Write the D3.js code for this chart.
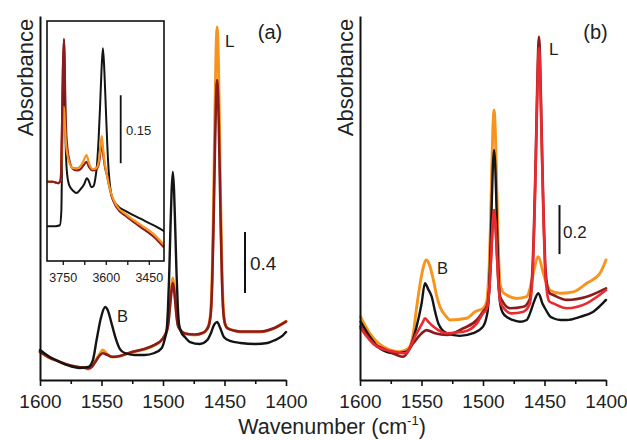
<!DOCTYPE html>
<html><head><meta charset="utf-8">
<script src="https://cdn.jsdelivr.net/npm/d3@7"></script>
<style>
html,body{margin:0;padding:0;background:#fff;}
svg{display:block;font-family:Arial,"Liberation Sans",sans-serif;}
</style></head>
<body>
<svg id="chart" width="627" height="440"></svg>
<script>
// ---------- DATA ----------
const ticksMain = [1600,1575,1550,1525,1500,1475,1450,1425,1400];
const tickLabelsMain = [1600,1550,1500,1450,1400];
const ticksInset = [3750,3675,3600,3525,3450];
const tickLabelsInset = [3750,3600,3450];

// panel (a) spectra: [wavenumber, absorbance]
const aBlack = [[1600,0.197],[1592,0.151],[1584,0.118],[1576,0.092],[1568,0.079],[1561,0.085],[1557,0.131],[1554,0.262],[1550.5,0.407],[1547,0.479],[1545,0.459],[1541.5,0.361],[1538,0.262],[1535,0.203],[1531,0.177],[1523,0.164],[1515,0.164],[1507,0.177],[1501,0.21],[1498.5,0.27],[1497,0.33],[1496,0.46],[1495,0.68],[1494,0.98],[1493,1.24],[1492,1.364],[1491,1.24],[1490,0.98],[1489,0.70],[1488,0.49],[1487,0.37],[1485,0.31],[1482,0.28],[1478,0.249],[1470,0.236],[1464,0.262],[1461,0.308],[1458.5,0.361],[1456,0.38],[1453.5,0.341],[1450.5,0.282],[1445.5,0.256],[1437,0.243],[1425,0.236],[1415,0.243],[1409,0.262],[1403,0.289],[1400,0.315]];
const aOrange = [[1600,0.184],[1592,0.144],[1586,0.125],[1580,0.105],[1570,0.085],[1563.5,0.079],[1561,0.072],[1557.5,0.092],[1554.5,0.131],[1551,0.177],[1549,0.197],[1545.5,0.17],[1541.5,0.151],[1535,0.157],[1524.5,0.184],[1514.5,0.203],[1506.5,0.23],[1501,0.262],[1497,0.32],[1496,0.36],[1495,0.44],[1494,0.53],[1493,0.62],[1492,0.669],[1491,0.62],[1490,0.53],[1489,0.44],[1488,0.37],[1486,0.33],[1482,0.302],[1474,0.295],[1467.5,0.308],[1464.5,0.33],[1462.5,0.37],[1461,0.48],[1460,0.71],[1459,1.11],[1458,1.64],[1457,2.12],[1456,2.315],[1455,2.12],[1454,1.64],[1453,1.11],[1452,0.71],[1451,0.48],[1449.5,0.37],[1447.5,0.34],[1441,0.322],[1437.5,0.315],[1421,0.315],[1409,0.341],[1400,0.385]];
const aDarkRed = [[1600,0.186],[1592,0.146],[1586,0.127],[1580,0.107],[1570,0.086],[1563.5,0.08],[1561,0.075],[1557.5,0.09],[1554.5,0.125],[1551,0.165],[1549,0.175],[1545.5,0.165],[1541.5,0.152],[1535,0.158],[1524.5,0.186],[1514.5,0.205],[1506.5,0.232],[1501,0.264],[1497,0.32],[1496,0.35],[1495,0.42],[1494,0.51],[1493,0.59],[1492,0.636],[1491,0.59],[1490,0.51],[1489,0.42],[1488,0.36],[1486,0.33],[1482,0.305],[1474,0.298],[1467.5,0.31],[1464.5,0.33],[1462.5,0.365],[1461,0.45],[1460,0.64],[1459,0.98],[1458,1.41],[1457,1.80],[1456,1.967],[1455,1.80],[1454,1.41],[1453,0.98],[1452,0.64],[1451,0.45],[1449.5,0.365],[1447.5,0.338],[1441,0.322],[1437.5,0.318],[1421,0.318],[1409,0.343],[1400,0.383]];

// inset (a), OH region
const iBlack = [[3805,0.077],[3775,0.077],[3760,0.079],[3755,0.11],[3752,0.25],[3749,0.40],[3746,0.44],[3743,0.36],[3740,0.26],[3736,0.2],[3728,0.168],[3714,0.155],[3702,0.15],[3690,0.157],[3675,0.17],[3666,0.183],[3660,0.178],[3650,0.163],[3643,0.165],[3637,0.18],[3631,0.21],[3625,0.27],[3620,0.34],[3615,0.42],[3610,0.47],[3605,0.42],[3600,0.34],[3595,0.26],[3590,0.20],[3584,0.16],[3579,0.142],[3562,0.124],[3527,0.109],[3481,0.094],[3434,0.079],[3397,0.066]];
const iDarkRed = [[3805,0.175],[3785,0.175],[3765,0.172],[3757,0.18],[3753,0.28],[3749.5,0.42],[3746,0.49],[3742.5,0.40],[3739,0.30],[3734,0.25],[3726,0.22],[3714,0.203],[3700,0.20],[3688,0.203],[3677,0.212],[3667,0.219],[3658,0.207],[3646,0.20],[3632,0.203],[3624,0.215],[3619,0.24],[3614,0.263],[3609,0.235],[3602,0.205],[3596,0.19],[3588,0.165],[3579,0.142],[3562,0.118],[3527,0.098],[3481,0.076],[3434,0.054],[3397,0.03]];
const iOrange = [[3805,0.175],[3785,0.175],[3765,0.172],[3757,0.18],[3753,0.25],[3749.5,0.31],[3746,0.341],[3742.5,0.30],[3739,0.26],[3734,0.235],[3726,0.215],[3714,0.205],[3700,0.205],[3688,0.21],[3677,0.222],[3667,0.234],[3658,0.215],[3646,0.203],[3632,0.206],[3624,0.222],[3619,0.25],[3614,0.276],[3609,0.245],[3602,0.21],[3596,0.19],[3588,0.165],[3579,0.145],[3562,0.122],[3527,0.102],[3481,0.081],[3434,0.06],[3397,0.036]];

// panel (b) spectra
const bBlack = [[1599.5,0.238],[1592,0.177],[1584,0.129],[1573,0.109],[1562,0.116],[1554,0.218],[1550,0.31],[1547.2,0.395],[1544.5,0.37],[1541.7,0.34],[1539,0.28],[1536.3,0.231],[1529.5,0.191],[1519,0.18],[1508,0.191],[1500,0.218],[1497,0.26],[1496,0.29],[1495,0.37],[1494,0.52],[1493,0.70],[1492,0.87],[1491,0.939],[1490,0.87],[1489,0.70],[1488,0.52],[1487,0.38],[1486,0.31],[1484,0.275],[1480,0.255],[1476,0.245],[1470,0.238],[1464.5,0.245],[1461.8,0.272],[1458.5,0.32],[1455,0.354],[1451.5,0.31],[1449.6,0.293],[1445.5,0.26],[1442.8,0.252],[1437,0.245],[1432,0.245],[1421,0.258],[1410.3,0.279],[1400,0.327]];
const bOrange = [[1599.5,0.258],[1592,0.191],[1581,0.136],[1567.5,0.116],[1560.7,0.129],[1557,0.18],[1553.9,0.299],[1549,0.45],[1546.3,0.49],[1543.5,0.47],[1540.4,0.41],[1537.5,0.34],[1535,0.299],[1530,0.26],[1526.8,0.245],[1513.3,0.252],[1506.5,0.279],[1500,0.293],[1497,0.32],[1496,0.37],[1495,0.46],[1494,0.62],[1493,0.83],[1492,1.02],[1491,1.102],[1490,1.02],[1489,0.83],[1488,0.62],[1487,0.46],[1486,0.39],[1484,0.36],[1480.7,0.347],[1472.6,0.333],[1464.5,0.34],[1461.5,0.38],[1459.1,0.436],[1455,0.503],[1451,0.436],[1448,0.39],[1445.5,0.367],[1437.4,0.354],[1426.6,0.36],[1415.7,0.395],[1404.9,0.436],[1400,0.49]];
const bDarkRed = [[1599.5,0.218],[1589,0.150],[1578.3,0.122],[1565,0.095],[1556.7,0.15],[1550,0.19],[1546,0.204],[1539,0.191],[1529.5,0.184],[1516,0.211],[1505,0.245],[1500,0.279],[1497,0.30],[1496,0.32],[1495,0.37],[1494,0.45],[1493,0.55],[1492,0.65],[1491,0.694],[1490,0.65],[1489,0.55],[1488,0.45],[1487,0.37],[1486,0.34],[1484,0.32],[1478,0.293],[1467.2,0.299],[1462,0.33],[1461,0.36],[1459.5,0.48],[1458.5,0.63],[1457.5,0.82],[1456.5,1.05],[1455.5,1.28],[1454.5,1.401],[1453.5,1.28],[1452.5,1.05],[1451.5,0.82],[1450.5,0.63],[1449.5,0.48],[1448,0.39],[1446,0.355],[1442.8,0.347],[1431.9,0.327],[1415.7,0.34],[1400,0.374]];
const bRed = [[1599.5,0.211],[1586.4,0.136],[1573,0.116],[1563.4,0.109],[1553.9,0.191],[1549,0.235],[1547.2,0.252],[1544,0.235],[1540.4,0.218],[1529.5,0.191],[1516,0.197],[1505,0.231],[1500,0.272],[1497,0.29],[1496,0.31],[1495,0.36],[1494,0.44],[1493,0.55],[1492,0.65],[1491,0.694],[1490,0.65],[1489,0.55],[1488,0.44],[1487,0.36],[1486,0.32],[1484,0.30],[1476.7,0.272],[1467.2,0.279],[1462,0.31],[1461,0.34],[1459.5,0.45],[1458.5,0.60],[1457.5,0.80],[1456.5,1.02],[1455.5,1.24],[1454.5,1.355],[1453.5,1.24],[1452.5,1.02],[1451.5,0.80],[1450.5,0.60],[1449.5,0.45],[1448,0.36],[1446,0.32],[1442.8,0.313],[1431.9,0.293],[1415.7,0.313],[1400,0.367]];

const colors = {black:"#141414", orange:"#f7941e", darkred:"#8c1c1c", red:"#ea2a30"};

// ---------- CHART ----------
const svg = d3.select("#chart");
const FONT = 'Arial,"Liberation Sans",sans-serif';

const xA = d3.scaleLinear().domain([1600,1400]).range([40,286]);
const yA = d3.scaleLinear().domain([0,2.387]).range([380,16]);
const xB = d3.scaleLinear().domain([1600,1400]).range([360,606]);
const yB = d3.scaleLinear().domain([0,1.486]).range([380,16]);
const xI = d3.scaleLinear().domain([3805,3397]).range([47,164]);
const yI = d3.scaleLinear().domain([0,0.53]).range([261,21]);

function drawLine(g, data, xs, ys, color, w){
  const line = d3.line().x(d=>xs(d[0])).y(d=>ys(d[1])).curve(d3.curveMonotoneX);
  g.append("path").datum(data).attr("d", line).attr("fill","none")
    .attr("stroke", color).attr("stroke-width", w).attr("stroke-linejoin","round").attr("stroke-linecap","round");
}

function drawAxes(xs, ys, yPos, xPos){
  const minor = svg.append("g").attr("transform",`translate(0,${yPos})`)
    .call(d3.axisBottom(xs).tickValues(ticksMain.filter(t=>!tickLabelsMain.includes(t))).tickSize(4).tickFormat("").tickSizeOuter(0));
  minor.select(".domain").remove();
  minor.selectAll("line").attr("stroke-width",1.6).attr("stroke","#111");
  const major = svg.append("g").attr("transform",`translate(0,${yPos})`)
    .call(d3.axisBottom(xs).tickValues(tickLabelsMain).tickSize(6).tickSizeOuter(0).tickFormat(d3.format("d")));
  major.select(".domain").attr("stroke-width",2).attr("stroke","#111");
  major.selectAll("line").attr("stroke-width",1.6).attr("stroke","#111");
  major.selectAll("text").attr("y",28).attr("dy",0).attr("font-size",19).attr("font-family",FONT).attr("fill","#222");
  const left = svg.append("g").attr("transform",`translate(${xPos},0)`)
    .call(d3.axisLeft(ys).tickValues([]).tickSizeOuter(0));
  left.select(".domain").attr("stroke-width",2).attr("stroke","#111");
}

// Panel (a)
const gA = svg.append("g");
drawLine(gA, aOrange, xA, yA, colors.orange, 2.9);
drawLine(gA, aDarkRed, xA, yA, colors.darkred, 2.6);
drawLine(gA, aBlack, xA, yA, colors.black, 2.4);
drawAxes(xA, yA, 380, 40);

// Inset
svg.append("clipPath").attr("id","clipI").append("rect")
  .attr("x",47).attr("y",21).attr("width",117).attr("height",240);
svg.append("rect").attr("x",47).attr("y",21).attr("width",117).attr("height",240).attr("fill","#fff");
const gI = svg.append("g").attr("clip-path","url(#clipI)");
drawLine(gI, iBlack, xI, yI, colors.black, 2);
drawLine(gI, iDarkRed, xI, yI, colors.darkred, 2.2);
drawLine(gI, iOrange, xI, yI, colors.orange, 2.2);
drawLine(gI, iDarkRed.filter(d=>d[0]>3740), xI, yI, colors.darkred, 2.2);
svg.append("rect").attr("x",47).attr("y",21).attr("width",117).attr("height",240)
  .attr("fill","none").attr("stroke","#111").attr("stroke-width",1.6);
const inAx = svg.append("g").attr("transform","translate(0,261)")
  .call(d3.axisBottom(xI).tickValues(ticksInset).tickSize(4).tickSizeOuter(0)
    .tickFormat(d=>tickLabelsInset.includes(d)?d:""));
inAx.select(".domain").remove();
inAx.selectAll("line").attr("stroke","#111").attr("stroke-width",1.3);
inAx.selectAll("text").attr("y",20.5).attr("dy",0).attr("font-size",12.5).attr("font-family",FONT).attr("fill","#222");

// scale bar inset
svg.append("line").attr("x1",120.7).attr("x2",120.7).attr("y1",yI(0.216)).attr("y2",yI(0.366))
  .attr("stroke","#111").attr("stroke-width",1.8);
svg.append("text").attr("x",126).attr("y",135).attr("font-size",13).attr("font-family",FONT).attr("fill","#222").text("0.15");

// scale bar (a)
svg.append("line").attr("x1",245).attr("x2",245).attr("y1",yA(0.57)).attr("y2",yA(0.97))
  .attr("stroke","#111").attr("stroke-width",2);
svg.append("text").attr("x",250).attr("y",270).attr("font-size",19).attr("font-family",FONT).attr("fill","#222").text("0.4");

// labels (a)
svg.append("text").attr("x",270).attr("y",39).attr("text-anchor","middle").attr("font-size",20).attr("font-family",FONT).attr("fill","#222").text("(a)");
svg.append("text").attr("x",225).attr("y",47).attr("font-size",17).attr("font-family",FONT).attr("fill","#222").text("L");
svg.append("text").attr("x",117).attr("y",322).attr("font-size",16.5).attr("font-family",FONT).attr("fill","#222").text("B");
svg.append("text").attr("transform","translate(33,77.5) rotate(-90)").attr("text-anchor","middle")
  .attr("font-size",22).attr("font-family",FONT).attr("fill","#222").text("Absorbance");

// Panel (b)
const gB = svg.append("g");
drawLine(gB, bOrange, xB, yB, colors.orange, 2.9);
drawLine(gB, bBlack, xB, yB, colors.black, 2.4);
drawLine(gB, bDarkRed, xB, yB, colors.darkred, 2.7);
drawLine(gB, bRed, xB, yB, colors.red, 2.6);
drawAxes(xB, yB, 380, 360);

svg.append("line").attr("x1",559.5).attr("x2",559.5).attr("y1",yB(0.514)).attr("y2",yB(0.714))
  .attr("stroke","#111").attr("stroke-width",2);
svg.append("text").attr("x",563).attr("y",238).attr("font-size",17).attr("font-family",FONT).attr("fill","#222").text("0.2");
svg.append("text").attr("x",595.5).attr("y",39).attr("text-anchor","middle").attr("font-size",20).attr("font-family",FONT).attr("fill","#222").text("(b)");
svg.append("text").attr("x",549).attr("y",55).attr("font-size",17).attr("font-family",FONT).attr("fill","#222").text("L");
svg.append("text").attr("x",437).attr("y",274).attr("font-size",16.5).attr("font-family",FONT).attr("fill","#222").text("B");
svg.append("text").attr("transform","translate(353,77.5) rotate(-90)").attr("text-anchor","middle")
  .attr("font-size",22).attr("font-family",FONT).attr("fill","#222").text("Absorbance");

// x title
const xt = svg.append("text").attr("x",332).attr("y",434).attr("text-anchor","middle")
  .attr("font-size",21.5).attr("font-family",FONT).attr("fill","#222");
xt.append("tspan").text("Wavenumber (cm");
xt.append("tspan").attr("font-size",13).attr("dy",-9).text("-1");
xt.append("tspan").attr("dy",9).text(")");
</script>
</body></html>
